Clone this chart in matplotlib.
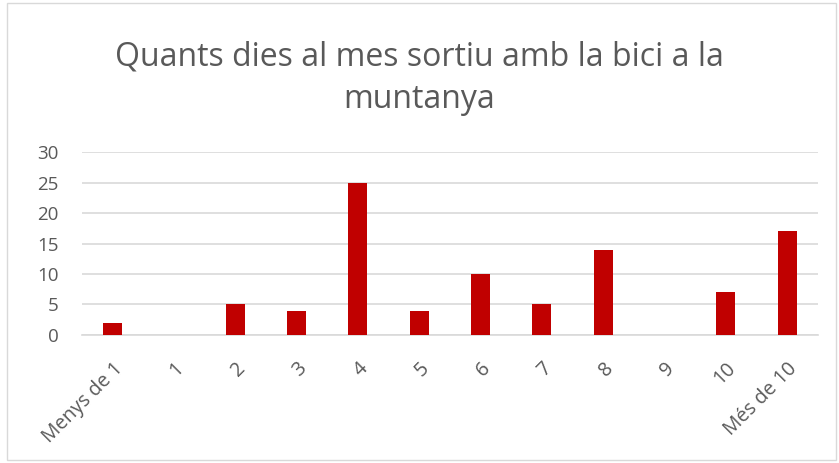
import matplotlib.pyplot as plt
from matplotlib.patches import Rectangle

categories = ["Menys de 1", "1", "2", "3", "4", "5", "6", "7", "8", "9", "10", "Més de 10"]
values = [2, 0, 5, 4, 25, 4, 10, 5, 14, 0, 7, 17]
yticks = [0, 5, 10, 15, 20, 25, 30]

plt.rcParams['font.family'] = ['Open Sans', 'DejaVu Sans']

fig = plt.figure(figsize=(8.39, 4.63), dpi=100)
ax = fig.add_axes([0.0977, 0.2765, 0.877, 0.395])

x = range(len(categories))
ax.bar(x, values, width=0.31, color='#C00000', zorder=3)

ax.set_xlim(-0.5, len(categories) - 0.5)
ax.set_ylim(0, 30)
ax.set_yticks(yticks)
ax.yaxis.grid(True, color='#D9D9D9', linewidth=1.2, zorder=0)
ax.set_xticks(list(x))
ax.set_xticklabels(categories, rotation=45, ha='right', rotation_mode='anchor')
ax.tick_params(axis='both', length=0, labelsize=13.5, colors='#595959')
ax.tick_params(axis='x', pad=17, labelsize=14.2)
ax.tick_params(axis='y', pad=17)
for s in ['top', 'right', 'left']:
    ax.spines[s].set_visible(False)
ax.spines['bottom'].set_color('#D9D9D9')
ax.spines['bottom'].set_linewidth(1.2)

fig.text(0.5, 0.832, "Quants dies al mes sortiu amb la bici a la\nmuntanya",
         ha='center', va='center', fontsize=23, color='#595959', linespacing=1.38)

fig.patches.append(Rectangle((0.008, 0.006), 0.988, 0.988, transform=fig.transFigure,
                             fill=False, edgecolor='#D9D9D9', linewidth=1))

fig.savefig('out.png', dpi=100)
